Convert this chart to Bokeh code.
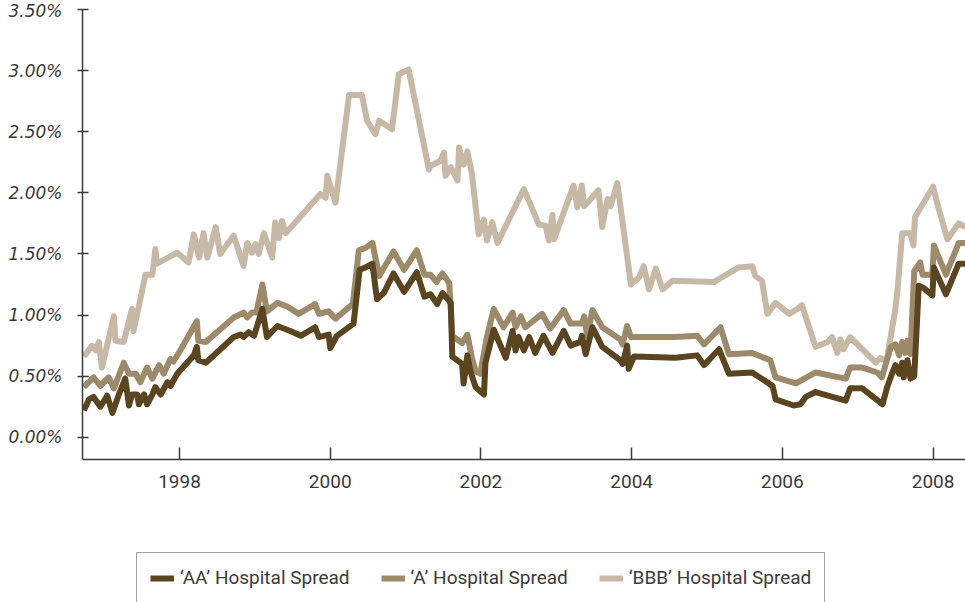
from bokeh.plotting import figure
from bokeh.models import FixedTicker, PrintfTickFormatter, Legend, LegendItem, Range1d
from bokeh.embed import file_html
from bokeh.resources import INLINE

# ---- data (decimal year, spread in %) ----
aa_year = [1996.73, 1996.80, 1996.86, 1996.95, 1997.04, 1997.11, 1997.19, 1997.28, 1997.33, 1997.37,
           1997.44, 1997.46, 1997.53, 1997.57, 1997.64, 1997.68, 1997.75, 1997.84, 1997.88, 1997.97,
           1998.19, 1998.23, 1998.25, 1998.35, 1998.72, 1998.81, 1998.85, 1998.92, 1998.99, 1999.10,
           1999.16, 1999.30, 1999.47, 1999.61, 1999.80, 1999.85, 1999.98, 2000.00, 2000.09, 2000.31,
           2000.39, 2000.47, 2000.56, 2000.62, 2000.71, 2000.84, 2000.98, 2001.15, 2001.25, 2001.33,
           2001.42, 2001.49, 2001.60, 2001.62, 2001.75, 2001.77, 2001.82, 2001.86, 2001.93, 2002.04,
           2002.06, 2002.17, 2002.33, 2002.42, 2002.46, 2002.50, 2002.57, 2002.64, 2002.72, 2002.83,
           2002.95, 2003.10, 2003.19, 2003.32, 2003.34, 2003.39, 2003.48, 2003.61, 2003.85, 2003.88,
           2003.94, 2003.96, 2004.03, 2004.58, 2004.87, 2004.96, 2005.16, 2005.29, 2005.60, 2005.87,
           2005.91, 2006.15, 2006.24, 2006.31, 2006.44, 2006.84, 2006.90, 2007.06, 2007.33, 2007.39,
           2007.46, 2007.50, 2007.55, 2007.59, 2007.61, 2007.66, 2007.70, 2007.75, 2007.81, 2007.88,
           2007.99, 2008.01, 2008.17, 2008.34, 2008.43]
aa_spread = [0.22, 0.31, 0.33, 0.25, 0.34, 0.20, 0.34, 0.48, 0.26, 0.35,
             0.35, 0.27, 0.35, 0.27, 0.35, 0.41, 0.35, 0.45, 0.42, 0.52,
             0.67, 0.74, 0.63, 0.61, 0.82, 0.84, 0.82, 0.86, 0.83, 1.05,
             0.82, 0.91, 0.87, 0.83, 0.90, 0.82, 0.84, 0.73, 0.83, 0.93,
             1.37, 1.39, 1.42, 1.13, 1.18, 1.34, 1.19, 1.35, 1.15, 1.17,
             1.09, 1.18, 1.10, 0.66, 0.60, 0.44, 0.67, 0.54, 0.41, 0.35,
             0.61, 0.88, 0.65, 0.87, 0.71, 0.82, 0.71, 0.82, 0.69, 0.83,
             0.69, 0.87, 0.75, 0.78, 0.83, 0.68, 0.90, 0.74, 0.63, 0.60,
             0.75, 0.56, 0.66, 0.65, 0.67, 0.59, 0.72, 0.52, 0.53, 0.42,
             0.31, 0.26, 0.27, 0.33, 0.37, 0.30, 0.40, 0.40, 0.27, 0.41,
             0.53, 0.59, 0.52, 0.61, 0.49, 0.63, 0.48, 0.50, 1.24, 1.22,
             1.16, 1.39, 1.17, 1.42, 1.42]

a_year = [1996.73, 1996.86, 1996.95, 1997.06, 1997.13, 1997.26, 1997.33, 1997.42, 1997.48, 1997.57,
          1997.64, 1997.73, 1997.79, 1997.88, 1997.92, 1998.01, 1998.23, 1998.25, 1998.35, 1998.72,
          1998.85, 1998.90, 1998.96, 1999.02, 1999.10, 1999.16, 1999.30, 1999.43, 1999.58, 1999.80,
          1999.85, 1999.98, 2000.07, 2000.30, 2000.38, 2000.47, 2000.56, 2000.65, 2000.84, 2000.98,
          2001.15, 2001.25, 2001.33, 2001.41, 2001.49, 2001.58, 2001.62, 2001.75, 2001.82, 2001.88,
          2001.93, 2001.99, 2002.08, 2002.17, 2002.30, 2002.42, 2002.46, 2002.53, 2002.59, 2002.81,
          2002.92, 2003.10, 2003.19, 2003.34, 2003.37, 2003.41, 2003.48, 2003.61, 2003.85, 2003.88,
          2003.94, 2003.99, 2004.58, 2004.87, 2004.96, 2005.18, 2005.29, 2005.60, 2005.84, 2005.91,
          2006.18, 2006.44, 2006.84, 2006.90, 2007.06, 2007.26, 2007.32, 2007.44, 2007.50, 2007.55,
          2007.59, 2007.63, 2007.66, 2007.70, 2007.75, 2007.83, 2007.86, 2007.99, 2008.01, 2008.17,
          2008.34, 2008.43]
a_spread = [0.41, 0.49, 0.42, 0.49, 0.40, 0.61, 0.52, 0.52, 0.45, 0.57,
            0.48, 0.59, 0.52, 0.64, 0.62, 0.71, 0.95, 0.79, 0.78, 0.98,
            1.02, 0.98, 1.02, 1.02, 1.25, 1.03, 1.10, 1.07, 1.01, 1.09,
            1.01, 1.03, 0.97, 1.09, 1.53, 1.55, 1.59, 1.32, 1.52, 1.37,
            1.53, 1.33, 1.33, 1.27, 1.34, 1.26, 0.83, 0.77, 0.84, 0.65,
            0.54, 0.52, 0.82, 1.05, 0.90, 1.02, 0.90, 0.99, 0.90, 1.01,
            0.89, 1.04, 0.93, 0.93, 0.99, 0.83, 1.04, 0.90, 0.80, 0.76,
            0.91, 0.82, 0.82, 0.83, 0.76, 0.90, 0.68, 0.69, 0.63, 0.49,
            0.44, 0.53, 0.48, 0.57, 0.57, 0.53, 0.49, 0.74, 0.76, 0.67,
            0.78, 0.69, 0.79, 0.68, 1.36, 1.43, 1.33, 1.33, 1.57, 1.33,
            1.59, 1.59]

bbb_year = [1996.73, 1996.84, 1996.89, 1996.93, 1996.97, 1997.13, 1997.15, 1997.26, 1997.37, 1997.39,
            1997.55, 1997.64, 1997.68, 1997.70, 1997.97, 1998.12, 1998.19, 1998.26, 1998.32, 1998.37,
            1998.48, 1998.54, 1998.72, 1998.85, 1998.90, 1998.96, 1999.01, 1999.05, 1999.12, 1999.23,
            1999.27, 1999.32, 1999.36, 1999.41, 1999.87, 1999.94, 1999.96, 2000.07, 2000.25, 2000.42,
            2000.49, 2000.60, 2000.65, 2000.82, 2000.91, 2001.04, 2001.31, 2001.33, 2001.46, 2001.51,
            2001.53, 2001.60, 2001.69, 2001.71, 2001.77, 2001.82, 2001.88, 2001.97, 2002.04, 2002.08,
            2002.15, 2002.22, 2002.57, 2002.77, 2002.86, 2002.90, 2002.95, 2002.97, 2003.23, 2003.28,
            2003.34, 2003.37, 2003.56, 2003.61, 2003.68, 2003.72, 2003.81, 2003.99, 2004.10, 2004.16,
            2004.23, 2004.32, 2004.41, 2004.54, 2005.09, 2005.42, 2005.60, 2005.64, 2005.73, 2005.80,
            2005.91, 2006.09, 2006.20, 2006.26, 2006.44, 2006.60, 2006.66, 2006.73, 2006.77, 2006.81,
            2006.90, 2007.24, 2007.30, 2007.38, 2007.50, 2007.53, 2007.59, 2007.70, 2007.74, 2007.76,
            2008.00, 2008.07, 2008.19, 2008.34, 2008.43]
bbb_spread = [0.66, 0.75, 0.71, 0.78, 0.57, 0.99, 0.79, 0.78, 1.05, 0.87,
              1.33, 1.33, 1.54, 1.42, 1.51, 1.43, 1.66, 1.47, 1.67, 1.47,
              1.72, 1.50, 1.65, 1.40, 1.59, 1.51, 1.58, 1.50, 1.67, 1.47,
              1.76, 1.63, 1.77, 1.67, 1.99, 1.96, 2.14, 1.92, 2.80, 2.80,
              2.59, 2.48, 2.59, 2.52, 2.97, 3.01, 2.19, 2.22, 2.26, 2.33,
              2.14, 2.21, 2.10, 2.37, 2.23, 2.34, 2.16, 1.66, 1.78, 1.61,
              1.76, 1.59, 2.03, 1.74, 1.73, 1.61, 1.82, 1.62, 2.06, 1.88,
              2.06, 1.89, 2.02, 1.72, 1.95, 1.89, 2.08, 1.25, 1.31, 1.40,
              1.21, 1.38, 1.21, 1.28, 1.27, 1.39, 1.40, 1.32, 1.28, 1.01,
              1.10, 1.01, 1.05, 1.08, 0.74, 0.78, 0.82, 0.69, 0.80, 0.72,
              0.82, 0.61, 0.65, 0.62, 1.05, 1.22, 1.67, 1.67, 1.57, 1.80,
              2.05, 1.88, 1.62, 1.75, 1.72]

x_ticks = [1998, 2000, 2002, 2004, 2006, 2008]
y_ticks = [0.0, 0.5, 1.0, 1.5, 2.0, 2.5, 3.0, 3.5]
series_labels = ["\u2018AA\u2019 Hospital Spread", "\u2018A\u2019 Hospital Spread", "\u2018BBB\u2019 Hospital Spread"]
colors = ["#5a4520", "#9c8a6b", "#c8b9a7"]

AXIS = "#3a3a3a"
Y_AXIS_MIN = -0.182   # value where the time axis crosses
Y_AXIS_MAX = 3.5

p = figure(width=965, height=602, output_backend="svg", toolbar_location=None,
           x_range=Range1d(1996.713, 2008.43), y_range=Range1d(-1.352, Y_AXIS_MAX),
           min_border_left=82, min_border_right=0, min_border_top=9, min_border_bottom=0)
p.outline_line_color = None
p.grid.visible = False
p.background_fill_color = "white"
p.border_fill_color = "white"

r_bbb = p.line(bbb_year, bbb_spread, line_color=colors[2], line_width=6, line_join="round")
r_a = p.line(a_year, a_spread, line_color=colors[1], line_width=6, line_join="round")
r_aa = p.line(aa_year, aa_spread, line_color=colors[0], line_width=6, line_join="round")

xa = p.xaxis[0]
xa.fixed_location = Y_AXIS_MIN
xa.ticker = FixedTicker(ticks=x_ticks)
xa.formatter = PrintfTickFormatter(format="%d")
xa.axis_line_color = AXIS
xa.axis_line_width = 1.5
xa.major_tick_line_color = AXIS
xa.major_tick_line_width = 1.5
xa.major_tick_in = 12
xa.major_tick_out = 0
xa.minor_tick_line_color = None
xa.major_label_text_font = "Roboto"
xa.major_label_text_font_size = "19px"
xa.major_label_text_color = AXIS
xa.major_label_standoff = 15

ya = p.yaxis[0]
ya.bounds = (Y_AXIS_MIN, Y_AXIS_MAX)
ya.ticker = FixedTicker(ticks=y_ticks)
ya.formatter = PrintfTickFormatter(format="%.2f%%")
ya.axis_line_color = AXIS
ya.axis_line_width = 1.5
ya.major_tick_line_color = AXIS
ya.major_tick_line_width = 1.5
ya.major_tick_in = 6
ya.major_tick_out = 5
ya.minor_tick_line_color = None
ya.major_label_text_font = "DejaVu Sans"
ya.major_label_text_font_style = "italic"
ya.major_label_text_font_size = "17px"
ya.major_label_text_color = AXIS
ya.major_label_standoff = 15

legend = Legend(items=[LegendItem(label=series_labels[0], renderers=[r_aa]),
                       LegendItem(label=series_labels[1], renderers=[r_a]),
                       LegendItem(label=series_labels[2], renderers=[r_bbb])],
                orientation="horizontal", location=(54, -1))
legend.label_text_font = "Roboto"
legend.label_text_font_size = "19px"
legend.label_text_color = AXIS
legend.glyph_width = 24
legend.glyph_height = 20
legend.label_height = 20
legend.label_standoff = 6
legend.spacing = 31
legend.padding = 13
legend.margin = 0
legend.border_line_color = "#444444"
legend.border_line_width = 1.2
legend.background_fill_color = "white"
legend.background_fill_alpha = 1.0
p.add_layout(legend)

open("out.html", "w").write(file_html(p, INLINE))
